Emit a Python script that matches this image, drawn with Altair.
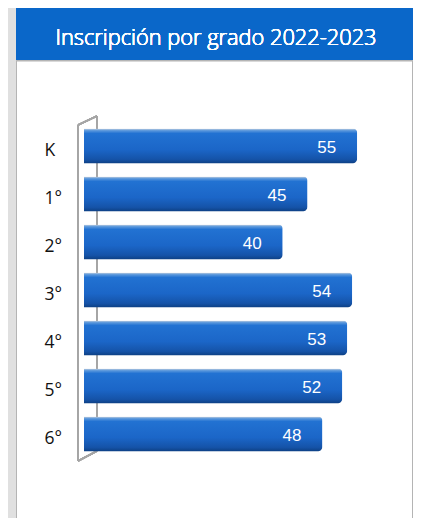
import altair as alt
import pandas as pd

grades = ["K", "1°", "2°", "3°", "4°", "5°", "6°"]
values = [55, 45, 40, 54, 53, 52, 48]
title_text = "Inscripción por grado 2022-2023"

df = pd.DataFrame({"grado": grades, "inscritos": values})

W, H = 298, 336
xscale = alt.Scale(domain=[0, 60], range=[0, W])
yscale = alt.Scale(domain=grades, paddingInner=0.27, paddingOuter=0.135)

base = alt.Chart(df)

# decorations (background panel, header, 3D wall)
panel = base.mark_rect(fill="white", stroke="#b4b4b4", strokeWidth=1).encode(
    x=alt.value(-67.5), x2=alt.value(328.5), y=alt.value(-61), y2=alt.value(420)
)
header = base.mark_rect(fill="#0a67c9").encode(
    x=alt.value(-68), x2=alt.value(329), y=alt.value(-120), y2=alt.value(-62)
)
title = base.mark_text(
    text=title_text, color="white", font="Open Sans", fontSize=21.8, fontWeight=300,
    align="center", baseline="middle"
).encode(x=alt.value(132), y=alt.value(-84))

wall_col = "#a6a6a6"
wall_back = base.mark_rule(color=wall_col, strokeWidth=1.6).encode(
    x=alt.value(13), y=alt.value(-6), y2=alt.value(329)
)
wall_front = base.mark_rule(color=wall_col, strokeWidth=1.8).encode(
    x=alt.value(-6), y=alt.value(3), y2=alt.value(339)
)
wall_top = base.mark_rule(color=wall_col, strokeWidth=1.6).encode(
    x=alt.value(-6), y=alt.value(3), x2=alt.value(13), y2=alt.value(-6)
)
wall_bot = base.mark_rule(color=wall_col, strokeWidth=1.6).encode(
    x=alt.value(-6), y=alt.value(339), x2=alt.value(13), y2=alt.value(329)
)

grad = alt.Gradient(
    gradient="linear", x1=0, y1=0, x2=0, y2=1,
    stops=[
        alt.GradientStop(offset=0, color="#c9d3de"),
        alt.GradientStop(offset=0.06, color="#5b98dc"),
        alt.GradientStop(offset=0.14, color="#2272d2"),
        alt.GradientStop(offset=0.6, color="#1b66c8"),
        alt.GradientStop(offset=0.88, color="#1553a8"),
        alt.GradientStop(offset=1, color="#0d3f82"),
    ],
)

bars = base.mark_bar(
    color=grad, cornerRadiusTopRight=4, cornerRadiusBottomRight=5
).encode(
    y=alt.Y("grado:N", scale=yscale, sort=grades, title=None,
            axis=alt.Axis(ticks=False, domain=False, labelAlign="left",
                          labelPadding=40, labelFontSize=17.5, labelColor="#111111",
                          labelFontWeight="normal", labelOffset=5,
                          labelFont="Open Sans", grid=False, zindex=1)),
    x=alt.X("inscritos:Q", scale=xscale, axis=None),
)

labels = base.mark_text(
    color="white", font="Liberation Sans", fontSize=17, align="right",
    baseline="middle", dx=-21, dy=2
).encode(
    y=alt.Y("grado:N", scale=yscale, sort=grades),
    x=alt.X("inscritos:Q", scale=xscale),
    text="inscritos:Q",
)

chart = alt.layer(
    panel, header, title, wall_back, wall_top, wall_bot, bars, wall_front, labels
).properties(
    width=W, height=H,
    autosize=alt.AutoSizeParams(type="none"),
    padding={"left": 76, "top": 114, "right": 31, "bottom": 60},
    background="#e0e0e0",
).configure_view(stroke=None)

chart.save("out.html", embed_options={"renderer": "svg", "actions": False})
